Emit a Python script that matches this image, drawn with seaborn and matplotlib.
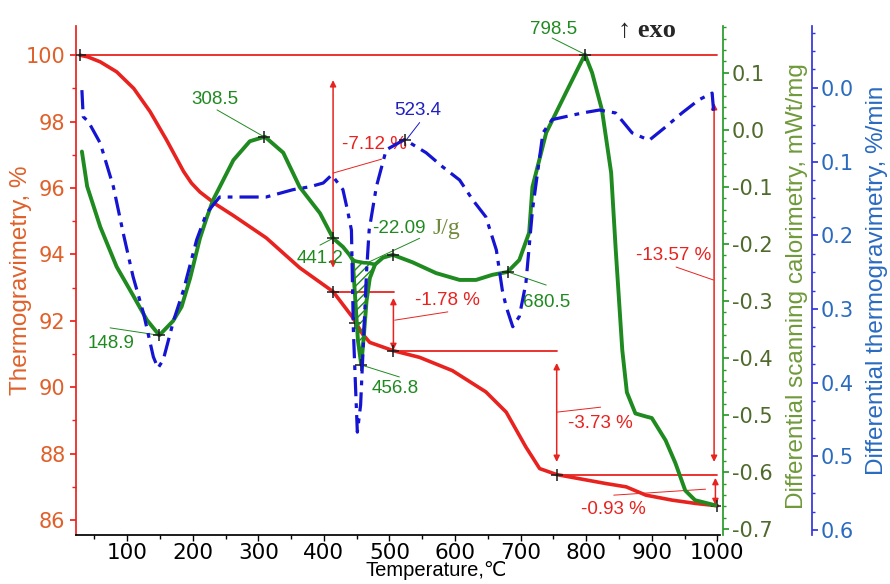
import numpy as np
import pandas as pd
import matplotlib
matplotlib.use("Agg")
import matplotlib.pyplot as plt
from matplotlib.ticker import MultipleLocator, FormatStrFormatter
import seaborn as sns

# thermogravimetry, %
tg_temp = [28, 40, 59, 84, 110, 135, 160, 186, 198, 211, 236, 262, 312, 363, 414, 444,
           459, 470, 506, 546, 596, 647, 678, 708, 729, 755, 830, 861, 891, 931, 967,
           1000]
tg_val = [100.0, 99.95, 99.8, 99.5, 99.0, 98.3, 97.45, 96.5, 96.15, 95.88, 95.5, 95.17,
          94.5, 93.6, 92.88, 92.1, 91.6, 91.35, 91.1, 90.9, 90.5, 89.86, 89.25, 88.2,
          87.55, 87.37, 87.1, 87.0, 86.75, 86.6, 86.5, 86.43]

# differential scanning calorimetry, mWt/mg
dsc_temp = [31, 39, 59, 84, 109, 130, 149, 170, 183, 196, 211, 221, 231, 262, 287, 310,
            338, 363, 394, 414, 429, 439, 444, 448, 452, 457, 461, 465, 470, 478, 490,
            505, 535, 571, 607, 632, 657, 680, 698, 713, 718, 739, 769, 798, 809, 824,
            838, 845, 850, 855, 862, 875, 890, 900, 921, 936, 951, 966, 997]
dsc_val = [-0.038, -0.099, -0.17, -0.24, -0.29, -0.333, -0.36, -0.335, -0.31, -0.26,
           -0.19, -0.155, -0.123, -0.053, -0.02, -0.012, -0.04, -0.1, -0.146, -0.19,
           -0.205, -0.219, -0.228, -0.30, -0.37, -0.412, -0.36, -0.30, -0.26, -0.236,
           -0.224, -0.219, -0.232, -0.251, -0.263, -0.263, -0.254, -0.249, -0.228,
           -0.18, -0.1, -0.005, 0.065, 0.132, 0.1, 0.035, -0.075, -0.21, -0.298,
           -0.386, -0.46, -0.497, -0.502, -0.505, -0.544, -0.584, -0.632, -0.649,
           -0.658]

# differential thermogravimetry, %/min
dtg_temp = [31, 33, 41, 59, 79, 94, 109, 125, 140, 147, 155, 171, 186, 206, 221, 241,
            287, 312, 353, 379, 399, 412, 429, 436, 442, 445, 448, 451, 456, 461, 465,
            469, 480, 495, 523, 556, 581, 607, 627, 647, 663, 672, 678, 688, 698, 708,
            718, 734, 748, 794, 820, 845, 870, 896, 921, 946, 972, 992, 995]
dtg_val = [0.003, 0.039, 0.046, 0.075, 0.134, 0.197, 0.256, 0.306, 0.365, 0.38, 0.369,
           0.315, 0.274, 0.206, 0.17, 0.148, 0.148, 0.148, 0.138, 0.134, 0.129, 0.118,
           0.138, 0.166, 0.193, 0.33, 0.40, 0.467, 0.43, 0.33, 0.25, 0.193, 0.134, 0.084,
           0.07, 0.088, 0.107, 0.125, 0.152, 0.175, 0.22, 0.274, 0.297, 0.324, 0.31,
           0.265, 0.166, 0.061, 0.043, 0.034, 0.03, 0.034, 0.061, 0.071, 0.053, 0.034,
           0.016, 0.007, 0.039]

# baseline under the 456.8 peak (hatched area)
base_temp = [444, 448, 452, 457, 461, 465, 470, 478]
base_val = [-0.228, -0.230, -0.231, -0.232, -0.233, -0.233, -0.234, -0.236]

# marked points
tg_mark_temp = [28, 414, 447, 505, 755, 1000]
tg_mark_val = [100.0, 92.88, 91.93, 91.1, 87.37, 86.43]
dsc_mark_temp = [148.9, 308.5, 414, 456.8, 505, 680.5, 798.5]
dsc_mark_val = [-0.36, -0.012, -0.19, -0.412, -0.219, -0.249, 0.132]
dtg_mark_temp = [523.4]
dtg_mark_val = [0.07]

# TG step lines
step_start = [28, 414, 505, 755]
step_end = [1000, 507, 755, 1000]
step_level = [100.0, 92.88, 91.1, 87.37]

RED = "#e8231f"
ORANGE = "#e0602a"
GREEN = "#1f8a1f"
OLIVE = "#4f6a2c"
OLIVE_LAB = "#6f9a3a"
BLUE = "#1414d2"
BLUE_TXT = "#2a6bc0"
SANS = ["Liberation Sans", "DejaVu Sans"]
SERIF = ["Liberation Serif", "DejaVu Serif"]

sns.set_theme(style="ticks")
plt.rcParams["font.family"] = ["DejaVu Sans"]
plt.rcParams["axes.unicode_minus"] = False

fig = plt.figure(figsize=(8.9, 5.84), dpi=100)
ax = fig.add_axes([76 / 890, 49 / 584, 644 / 890, 509 / 584])
ax2 = ax.twinx()
ax3 = ax.twinx()

tg = pd.DataFrame({"T": tg_temp, "v": tg_val})
dsc = pd.DataFrame({"T": dsc_temp, "v": dsc_val})
dtg = pd.DataFrame({"T": dtg_temp, "v": dtg_val})

# TG step lines and curve
for s, e, lv in zip(step_start, step_end, step_level):
    ax.plot([s, e], [lv, lv], color=RED, lw=1.3, zorder=2)
sns.lineplot(data=tg, x="T", y="v", ax=ax, color=RED, lw=2.6, sort=False, zorder=3)
sns.scatterplot(x=tg_mark_temp, y=tg_mark_val, ax=ax, marker="+", color="k",
                s=70, linewidth=1.1, zorder=5)

# DSC curve with hatched peak
sel = dsc[dsc["T"].isin(base_temp)]
ax2.fill_between(base_temp, base_val, sel["v"].values, facecolor="none",
                 edgecolor=GREEN, hatch="////", lw=0)
sns.lineplot(x=base_temp, y=base_val, ax=ax2, color=GREEN, lw=2.6)
sns.lineplot(data=dsc, x="T", y="v", ax=ax2, color=GREEN, lw=2.8, sort=False)
sns.scatterplot(x=dsc_mark_temp, y=dsc_mark_val, ax=ax2, marker="+", color="k",
                s=70, linewidth=1.1, zorder=5)

# DTG curve
sns.lineplot(data=dtg, x="T", y="v", ax=ax3, color=BLUE, lw=2.3, sort=False)
ax3.lines[-1].set_linestyle((0, (6, 2.2, 1.5, 2.2)))
sns.scatterplot(x=dtg_mark_temp, y=dtg_mark_val, ax=ax3, marker="+", color="k",
                s=70, linewidth=1.1, zorder=5)

# limits
ax.set_xlim(22, 1004)
ax.set_ylim(85.55, 100.88)
ax2.set_ylim(-0.71, 0.182)
ax3.set_ylim(0.6065, -0.084)

# spines
for a in (ax, ax2, ax3):
    a.spines["top"].set_visible(False)
ax.spines["right"].set_visible(False)
ax.spines["left"].set_color(RED)
ax.spines["bottom"].set_color("black")
for a in (ax2, ax3):
    a.spines["left"].set_visible(False)
    a.spines["bottom"].set_visible(False)
ax2.spines["right"].set_position(("axes", 1.005))
ax2.spines["right"].set_color("#2a9a2a")
ax3.spines["right"].set_position(("axes", 1.143))
ax3.spines["right"].set_color("#3333dd")

# ticks
ax.set_xticks(range(100, 1001, 100))
ax.xaxis.set_minor_locator(MultipleLocator(50))
ax.set_yticks(range(86, 101, 2))
ax.yaxis.set_minor_locator(MultipleLocator(1))
ax.tick_params(axis="x", which="both", colors="black", labelsize=15.5, length=4,
               width=1, pad=2)
ax.tick_params(axis="x", which="minor", length=3)
ax.tick_params(axis="y", which="both", color=RED, labelcolor=ORANGE, labelsize=15,
               length=4)
ax.tick_params(axis="y", which="minor", length=3)

ax2.set_yticks([-0.7, -0.6, -0.5, -0.4, -0.3, -0.2, -0.1, 0.0, 0.1])
ax2.yaxis.set_major_formatter(FormatStrFormatter("%.1f"))
ax2.yaxis.set_minor_locator(MultipleLocator(0.02))
ax2.tick_params(axis="y", which="both", color="#2a9a2a", labelcolor=OLIVE,
                labelsize=15, length=4, pad=2)
ax2.tick_params(axis="y", which="minor", length=2.5)

ax3.set_yticks([0.0, 0.1, 0.2, 0.3, 0.4, 0.5, 0.6])
ax3.yaxis.set_major_formatter(FormatStrFormatter("%.1f"))
ax3.yaxis.set_minor_locator(MultipleLocator(0.025))
ax3.tick_params(axis="y", which="both", color="#3333dd", labelcolor=BLUE_TXT,
                labelsize=15, length=4, pad=2)
ax3.tick_params(axis="y", which="minor", length=2.5)

# axis labels
ax.set_xlabel("Temperature,℃", fontsize=14.5, color="black", family=SANS)
ax.xaxis.set_label_coords(0.56, -0.052)
ax.set_ylabel("Thermogravimetry, %", fontsize=17.5, color=ORANGE, family=SANS)
ax.yaxis.set_label_coords(-0.068, 0.5)
ax2.set_ylabel("Differential scanning calorimetry, mWt/mg", fontsize=17.5,
               color=OLIVE_LAB, family=SANS)
ax2.yaxis.set_label_coords(1.103, 0.49)
ax3.set_ylabel("Differential thermogravimetry, %/min", fontsize=17.5,
               color=BLUE_TXT, family=SANS)
ax3.yaxis.set_label_coords(1.226, 0.5)

# arrows for mass losses
for x, y0, y1 in [(414, 93.6, 99.25), (506, 92.69, 91.12), (755, 90.73, 87.75),
                  (995, 98.56, 87.75), (997, 87.27, 86.45)]:
    ax.annotate("", xy=(x, y1), xytext=(x, y0),
                arrowprops=dict(arrowstyle="<|-|>", color=RED, lw=1.1,
                                mutation_scale=9, shrinkA=0, shrinkB=0))

# red texts with leader lines
red_notes = [("-7.12 %", 477, 97.3, (414, 96.45), (488, 96.87)),
             ("-1.78 %", 589, 92.6, (508, 92.02), (589, 92.27)),
             ("-3.73 %", 821, 88.92, (755, 89.25), (822, 89.4)),
             ("-13.57 %", 933, 93.98, (937, 93.62), (994, 93.23)),
             ("-0.93 %", 841, 86.33, (842, 86.75), (982, 86.93))]
for txt, x, y, p0, p1 in red_notes:
    ax.plot([p0[0], p1[0]], [p0[1], p1[1]], color=RED, lw=0.7)
    ax.text(x, y, txt, color=RED, fontsize=13.5, ha="center", va="center",
            family=SANS)

# green texts
green_notes = [("308.5", 234, 0.053, (237, 0.035), (308.5, -0.012)),
               ("148.9", 76, -0.374, (74, -0.347), (148.9, -0.36)),
               ("441.2", 394, -0.226, (394, -0.202), (414, -0.19)),
               ("456.8", 508, -0.454, (515, -0.433), (456.8, -0.412)),
               ("680.5", 740, -0.302, (739, -0.272), (680.5, -0.249)),
               ("798.5", 750, 0.175, (748, 0.161), (798.5, 0.132)),
               ("-22.09", 514, -0.172, (546, -0.19), (466, -0.233))]
for txt, x, y, p0, p1 in green_notes:
    ax2.plot([p0[0], p1[0]], [p0[1], p1[1]], color=GREEN, lw=0.7)
    ax2.text(x, y, txt, color=GREEN, fontsize=13.5, ha="center", va="center",
             family=SANS)
ax2.text(587, -0.172, "J/g", color="#6f8a3a", fontsize=17, ha="center",
         va="center", family=SERIF)

# blue text
ax3.plot([546, 526], [0.047, 0.07], color=BLUE, lw=0.7)
ax3.text(543, 0.030, "523.4", color="#2020c0", fontsize=13.5, ha="center",
         va="center", family=SANS)

fig.text(0.727, 0.947, "↑ exo", fontsize=19, fontweight="bold", ha="center",
         va="center", family=SERIF)

plt.savefig("out.png", dpi=100)
